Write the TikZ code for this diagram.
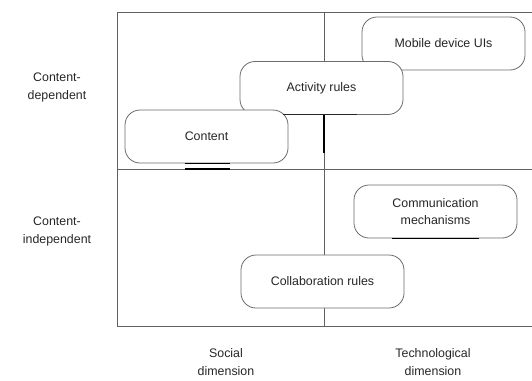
\documentclass[tikz,border=0pt]{standalone}
\usepackage{fontspec}
\setmainfont{Liberation Sans}
\usetikzlibrary{calc}
\begin{document}
\begin{tikzpicture}[x=1pt,y=-1pt,
  frame/.style={draw=black!62,line width=0.9pt},
  box/.style={draw=black!58,fill=white,line width=0.8pt,rounded corners=15pt,
    minimum width=163pt,minimum height=53pt,inner sep=0pt,align=center,
    font=\fontsize{12.4}{17}\selectfont,text=black!85},
  lbl/.style={align=center,font=\fontsize{12.4}{18}\selectfont,inner sep=0pt,text=black!85},
  bar/.style={draw=black,line width=1.8pt},
  thin/.style={draw=black!85,line width=1pt}]
\useasboundingbox (0,0) rectangle (532,380);
\clip (0,0) rectangle (532,380);
% frame
\coordinate (tl) at (117,12);
\coordinate (br) at (540,326);
\coordinate (vt) at (324,12);
\coordinate (vb) at (324,326);
\coordinate (hl) at (117,169);
\coordinate (hr) at (540,169);
\draw[frame] (tl) rectangle (br);
\draw[frame] (vt) -- (vb);
\draw[frame] (hl) -- (hr);
% boxes
\node[box] (mobile) at (443.5,43.5) {Mobile device UIs};
\node[box] (activity) at (321.5,88) {Activity rules};
\node[box] (content) at (206.5,136.5) {Content};
\node[box] (comm) at (435.5,211.5) {Communication\\mechanisms};
\node[box] (collab) at (322.5,281.5) {Collaboration rules};
% emphasis bars
\draw[bar] ($(content.south)+(-21.5,0)$) -- ($(content.south)+(23.5,0)$);
\coordinate (c2a) at ($(content.south)+(-21.5,5.5)$);
\coordinate (c2b) at ($(content.south)+(23.5,5.5)$);
\draw[bar] (c2a) -- (c2b);
\draw[thin] ($(activity.south)+(-38.5,0)$) -- ($(activity.south)+(35.5,0)$);
\coordinate (av) at (324,153);
\draw[bar] ($(activity.south)+(2.5,0)$) -- (av);
\draw[bar] ($(comm.south)+(-43.5,0)$) -- ($(comm.south)+(43.5,0)$);
% labels
\node[lbl] (cd) at (57,87) {Content-\\dependent};
\node[lbl] (ci) at (57,231) {Content-\\independent};
\node[lbl] (sd) at (226,362) {Social\\dimension};
\node[lbl] (td) at (433,362) {Technological\\dimension};
\end{tikzpicture}
\end{document}
